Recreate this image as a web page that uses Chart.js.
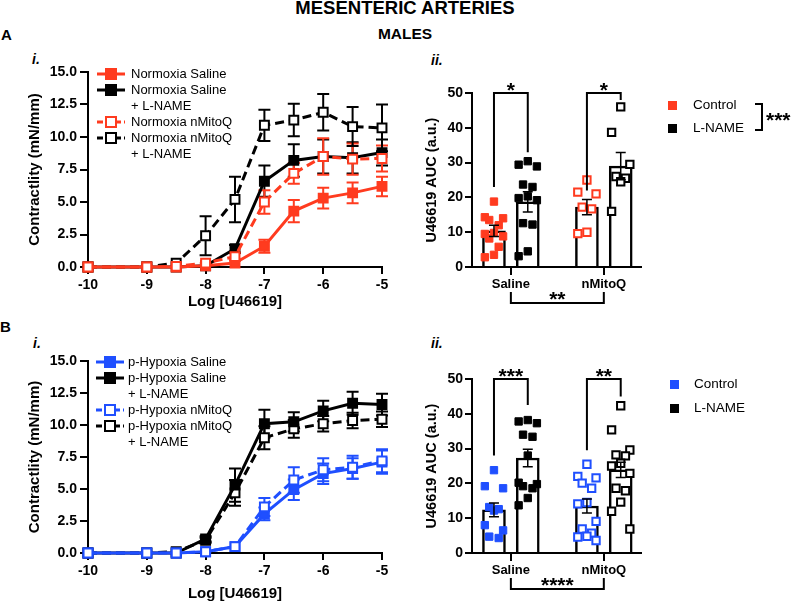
<!DOCTYPE html>
<html>
<head>
<meta charset="utf-8">
<title>Mesenteric arteries - males</title>
<script src="https://cdn.jsdelivr.net/npm/chart.js@4.4.1/dist/chart.umd.min.js"></script>
<style>
  body { margin: 0; background: #fff; }
  #page { position: relative; width: 797px; height: 603px; overflow: hidden; font-family: 'Liberation Sans', Arial, sans-serif; color: #000; }
  #page canvas { position: absolute; }
  .txt { position: absolute; white-space: nowrap; line-height: 1; }
  .bold { font-weight: bold; }
  .panel { font-size: 15px; font-weight: bold; }
  .sub { font-size: 14px; font-style: italic; font-weight: bold; }
  .key { position: absolute; font-size: 13px; line-height: 16px; white-space: nowrap; }
  .sample { position: absolute; }
  .sq { position: absolute; width: 9px; height: 9px; }
  .auckey { position: absolute; font-size: 13.5px; line-height: 1; white-space: nowrap; }
</style>
</head>
<body>
<div id="page">
  <div class="txt bold" style="left:405px;top:-1px;font-size:18.5px;transform:translateX(-50%)">MESENTERIC ARTERIES</div>
  <div class="txt bold" style="left:405px;top:26px;font-size:15.5px;transform:translateX(-50%)">MALES</div>
  <div class="txt panel" style="left:1px;top:27px">A</div>
  <div class="txt panel" style="left:0px;top:319px">B</div>
  <div class="txt sub" style="left:32px;top:52px">i.</div>
  <div class="txt sub" style="left:431px;top:53px">ii.</div>
  <div class="txt sub" style="left:33px;top:336px">i.</div>
  <div class="txt sub" style="left:431px;top:336px">ii.</div>

  <canvas id="curveA" width="400" height="255" style="left:0;top:60px"></canvas>
  <canvas id="aucA" width="397" height="255" style="left:400px;top:60px"></canvas>
  <canvas id="curveB" width="400" height="254" style="left:0;top:349px"></canvas>
  <canvas id="aucB" width="397" height="254" style="left:400px;top:349px"></canvas>

  <div id="legendA"></div>
  <div id="legendB"></div>

  <!-- AUC legends -->
  <div class="sq" style="left:668px;top:101px;background:#ff3b1f"></div>
  <div class="auckey" style="left:693px;top:98px">Control</div>
  <div class="sq" style="left:668px;top:124px;background:#000"></div>
  <div class="auckey" style="left:693px;top:121px">L-NAME</div>
  <div style="position:absolute;left:755px;top:103px;width:6px;height:24px;border:2px solid #000;border-left:none"></div>
  <div class="txt bold" style="left:766px;top:109px;font-size:21px">***</div>

  <div class="sq" style="left:670px;top:380px;background:#1f4fff"></div>
  <div class="auckey" style="left:694px;top:377px">Control</div>
  <div class="sq" style="left:670px;top:404px;background:#000"></div>
  <div class="auckey" style="left:694px;top:401px">L-NAME</div>
</div>

<script>
// Dose axis, log [U46619]
const logDose = [-10, -9, -8.5, -8, -7.5, -7, -6.5, -6, -5.5, -5];

// A i. normoxia concentration-response (mN/mm), mean and SEM
const normSaline      = [0, 0, 0, 0.1, 0.3, 1.6, 4.3, 5.3, 5.7, 6.2];
const normSalineSem   = [0, 0, 0, 0, 0, 0.5, 0.85, 0.8, 0.8, 0.75];
const normSalineLN    = [0, 0, 0, 0.1, 1.4, 6.6, 8.2, 8.5, 8.4, 8.8];
const normSalineLNSem = [0, 0, 0, 0, 0.3, 1.2, 1.25, 1.3, 1.2, 1.0];
const normMito        = [0, 0, 0.05, 0.3, 0.8, 5.0, 7.2, 8.5, 8.3, 8.35];
const normMitoSem     = [0, 0, 0, 0, 0.3, 0.9, 0.8, 1.4, 1.2, 1.0];
const normMitoLN      = [0, 0, 0.3, 2.4, 5.2, 10.9, 11.3, 11.9, 10.8, 10.7];
const normMitoLNSem   = [0, 0, 0, 1.5, 1.75, 1.2, 1.25, 1.4, 1.5, 1.8];

// B i. post-hypoxia concentration-response (mN/mm)
const hypSaline      = [0, 0, 0, 0.1, 0.5, 3.05, 4.95, 6.2, 6.6, 7.1];
const hypSalineSem   = [0, 0, 0, 0, 0, 0.5, 0.8, 0.8, 0.8, 0.9];
const hypSalineLN    = [0, 0, 0, 1.1, 5.3, 10.1, 10.25, 11.1, 11.7, 11.6];
const hypSalineLNSem = [0, 0, 0, 0.2, 1.3, 1.1, 0.75, 0.8, 0.9, 0.85];
const hypMito        = [0, 0, 0, 0.1, 0.5, 3.6, 5.7, 6.5, 6.7, 7.2];
const hypMitoSem     = [0, 0, 0, 0, 0, 0.7, 1.0, 0.9, 0.9, 0.9];
const hypMitoLN      = [0, 0, 0.1, 1.0, 4.7, 9.0, 9.7, 10.1, 10.35, 10.45];
const hypMitoLNSem   = [0, 0, 0, 0.2, 1.0, 0.9, 0.7, 0.6, 0.6, 0.6];

// AUC panels: groups, bar means / SEM (Saline ctrl, Saline L-NAME, nMitoQ ctrl, nMitoQ L-NAME)
const groups = ['Saline', 'nMitoQ'];
const aucMeansA = [10.4, 18.7, 17.2, 29.0];
const aucSemA   = [1.6, 2.9, 2.2, 3.9];
const aucMeansB = [12.4, 27.3, 13.5, 23.9];
const aucSemB   = [2.0, 2.5, 2.0, 2.2];

// individual animals (a.u.)
const aSalineCtrl = [18.8, 14.3, 14.0, 13.5, 12.0, 9.8, 9.5, 8.8, 8.2, 5.8, 3.5, 2.8];
const aSalineLN   = [30.4, 29.4, 28.9, 23.7, 23.0, 20.3, 19.8, 19.2, 12.6, 12.2, 4.5, 3.1];
const aMitoCtrl   = [25.0, 21.5, 21.0, 17.2, 16.7, 10.0, 9.6];
const aMitoLN     = [46.0, 38.7, 29.5, 26.0, 25.5, 24.5, 16.0];
const bSalineCtrl = [23.8, 19.2, 18.6, 13.2, 12.6, 12.2, 8.0, 6.5, 4.7, 4.3];
const bSalineLN   = [38.2, 37.8, 37.3, 34.0, 33.4, 28.0, 20.2, 19.8, 19.2, 18.6, 15.8, 13.7];
const bMitoCtrl   = [25.5, 22.0, 21.6, 20.1, 18.6, 14.5, 14.1, 9.1, 6.9, 5.7, 4.8, 4.6, 3.6];
const bMitoLN     = [42.3, 35.4, 29.6, 28.2, 27.9, 25.8, 25.0, 22.9, 18.6, 17.9, 14.6, 12.0, 6.9];

const red = '#ff3b1f';
const blue = '#1f4fff';
const black = '#000000';
const fontFamily = "'Liberation Sans', Arial, sans-serif";

Chart.defaults.font.family = fontFamily;
Chart.defaults.color = '#000';
Chart.defaults.animation = false;
Chart.defaults.plugins.legend.display = false;
Chart.defaults.plugins.tooltip.enabled = false;

// x positions on the AUC axis (0..5)
const groupPos = [1.15, 3.9];
const barPos = [groupPos[0] - 0.5, groupPos[0] + 0.5, groupPos[1] - 0.5, groupPos[1] + 0.5];
const spread = [0, -0.27, 0.27, -0.14, 0.14];

function drawErrors(chart, cap, lw) {
    const { ctx, scales: { x, y } } = chart;
    chart.data.datasets.forEach(ds => {
        if (!ds.sem) return;
        ctx.save();
        ctx.strokeStyle = ds.errorColor;
        ctx.lineWidth = lw;
        ds.data.forEach((p, i) => {
            const s = ds.sem[i];
            if (!s) return;
            const px = x.getPixelForValue(p.x);
            const hi = y.getPixelForValue(p.y + s);
            const lo = y.getPixelForValue(p.y - s);
            ctx.beginPath();
            ctx.moveTo(px, hi); ctx.lineTo(px, lo);
            ctx.moveTo(px - cap, hi); ctx.lineTo(px + cap, hi);
            ctx.moveTo(px - cap, lo); ctx.lineTo(px + cap, lo);
            ctx.stroke();
        });
        ctx.restore();
    });
}

function errorPlugin(under, cap, lw) {
    return {
        id: 'errorBars',
        beforeDatasetsDraw(chart) { if (under) drawErrors(chart, cap, lw); },
        afterDatasetsDraw(chart) { if (!under) drawErrors(chart, cap, lw); }
    };
}

// significance brackets: above each pair of bars, and between treatments below the axis
function bracketPlugin(pairs, between) {
    return {
        id: 'brackets',
        afterDraw(chart) {
            const { ctx, scales: { x, y }, chartArea } = chart;
            ctx.save();
            ctx.strokeStyle = '#000';
            ctx.fillStyle = '#000';
            ctx.lineWidth = 2;
            ctx.font = 'bold 21px ' + fontFamily;
            ctx.textAlign = 'center';
            ctx.textBaseline = 'alphabetic';
            pairs.forEach(b => {
                const x1 = x.getPixelForValue(b.from);
                const x2 = x.getPixelForValue(b.to);
                const top = y.getPixelForValue(b.top);
                ctx.beginPath();
                ctx.moveTo(x1, y.getPixelForValue(b.left));
                ctx.lineTo(x1, top);
                ctx.lineTo(x2, top);
                ctx.lineTo(x2, y.getPixelForValue(b.right));
                ctx.stroke();
                ctx.fillText(b.text, (x1 + x2) / 2, top + 4);
            });
            const g1 = x.getPixelForValue(groupPos[0]);
            const g2 = x.getPixelForValue(groupPos[1]);
            const base = chartArea.bottom;
            ctx.beginPath();
            ctx.moveTo(g1, base + 25);
            ctx.lineTo(g1, base + 36);
            ctx.lineTo(g2, base + 36);
            ctx.lineTo(g2, base + 25);
            ctx.stroke();
            ctx.fillText(between, (g1 + g2) / 2, base + 39);
            ctx.restore();
        }
    };
}

function curveChart(id, series, padTop, xHeight, titlePad) {
    return new Chart(document.getElementById(id), {
        type: 'line',
        data: {
            datasets: series.map(s => ({
                label: s.label.join(' '),
                data: logDose.map((d, i) => ({ x: d, y: s.values[i] })),
                sem: s.sem,
                errorColor: s.color,
                borderColor: s.color,
                backgroundColor: s.open ? '#fff' : s.color,
                borderWidth: 3,
                borderDash: s.dashed ? [9, 5] : [],
                pointStyle: 'rect',
                pointRadius: 6.3,
                pointBorderWidth: 2,
                pointBackgroundColor: s.open ? '#fff' : s.color,
                pointBorderColor: s.color,
                tension: 0,
                clip: false,
                order: s.order
            }))
        },
        options: {
            responsive: false,
            layout: { padding: { left: 0, top: padTop, right: 18, bottom: 0 } },
            scales: {
                x: {
                    type: 'linear', min: -10, max: -5,
                    ticks: { stepSize: 1, padding: 3, font: { size: 14, weight: 'bold' }, callback: v => String(v) },
                    grid: { drawOnChartArea: false, color: '#000', lineWidth: 2, tickLength: 7 },
                    border: { color: '#000', width: 2 },
                    title: { display: true, text: 'Log [U46619]', font: { size: 15, weight: 'bold' }, padding: { top: 0, bottom: titlePad } },
                    afterFit: s => { s.height = xHeight; }
                },
                y: {
                    min: 0, max: 15,
                    ticks: { stepSize: 2.5, padding: 3, font: { size: 14, weight: 'bold' }, callback: v => v.toFixed(1) },
                    grid: { drawOnChartArea: false, color: '#000', lineWidth: 2, tickLength: 8 },
                    border: { color: '#000', width: 2 },
                    title: { display: true, text: 'Contractlity (mN/mm)', font: { size: 15, weight: 'bold' }, padding: { top: 26, bottom: 0 } },
                    afterFit: s => { s.width = 88; }
                }
            }
        },
        plugins: [errorPlugin(true, 6, 2)]
    });
}

function scatterSet(values, pos, color, open) {
    return {
        type: 'scatter',
        data: values.map((v, i) => ({ x: pos + spread[i % spread.length], y: v })),
        pointStyle: 'rect',
        pointRadius: 5.2,
        pointBorderWidth: open ? 2 : 1,
        pointBackgroundColor: open ? '#fff' : color,
        pointBorderColor: color,
        backgroundColor: open ? '#fff' : color,
        borderColor: color,
        clip: false,
        order: 1
    };
}

function aucChart(id, color, points, means, sem, padTop, xHeight, pairs, between) {
    return new Chart(document.getElementById(id), {
        type: 'bar',
        data: {
            datasets: [
                scatterSet(points[0], barPos[0], color, false),
                scatterSet(points[1], barPos[1], black, false),
                scatterSet(points[2], barPos[2], color, true),
                scatterSet(points[3], barPos[3], black, true),
                {
                    type: 'bar',
                    data: barPos.map((p, i) => ({ x: p, y: means[i] })),
                    sem: sem,
                    errorColor: '#000',
                    backgroundColor: '#fff',
                    borderColor: '#000',
                    borderWidth: 2.5,
                    barThickness: 23,
                    grouped: false,
                    order: 2
                }
            ]
        },
        options: {
            responsive: false,
            layout: { padding: { left: 0, top: padTop, right: 156, bottom: 0 } },
            scales: {
                x: {
                    type: 'linear', min: 0, max: 5, offset: false,
                    afterBuildTicks: s => { s.ticks = groupPos.map(v => ({ value: v })); },
                    ticks: { padding: 2, font: { size: 13, weight: 'bold' }, callback: (v, i) => groups[i] },
                    grid: { drawOnChartArea: false, offset: false, color: '#000', lineWidth: 2, tickLength: 8 },
                    border: { color: '#000', width: 2 },
                    afterFit: s => { s.height = xHeight; }
                },
                y: {
                    min: 0, max: 50,
                    ticks: { stepSize: 10, padding: 2, font: { size: 14, weight: 'bold' } },
                    grid: { drawOnChartArea: false, color: '#000', lineWidth: 2, tickLength: 7 },
                    border: { color: '#000', width: 2 },
                    title: { display: true, text: 'U46619 AUC (a.u.)', font: { size: 14.5, weight: 'bold' }, padding: { top: 23, bottom: 0 } },
                    afterFit: s => { s.width = 72; }
                }
            }
        },
        plugins: [errorPlugin(false, 5, 1.5), bracketPlugin(pairs, between)]
    });
}

function curveLegend(elId, series, top, sampleLeft, textLeft) {
    const box = document.getElementById(elId);
    let rowTop = top;
    series.forEach(s => {
        const dash = s.dashed ? ' stroke-dasharray="6 3"' : '';
        const fill = s.open ? '#fff' : s.color;
        box.insertAdjacentHTML('beforeend',
            `<svg class="sample" style="left:${sampleLeft}px;top:${rowTop}px" width="28" height="16">` +
            `<line x1="0" y1="8" x2="28" y2="8" stroke="${s.color}" stroke-width="3"${dash}/>` +
            `<rect x="9" y="3" width="10" height="10" fill="${fill}" stroke="${s.color}" stroke-width="2"/></svg>` +
            `<div class="key" style="left:${textLeft}px;top:${rowTop}px">${s.label.join('<br>')}</div>`);
        rowTop += 16 * s.label.length;
    });
}

const seriesA = [
    { label: ['Normoxia Saline'], values: normSaline, sem: normSalineSem, color: red, open: false, dashed: false, order: 1 },
    { label: ['Normoxia Saline', '+ L-NAME'], values: normSalineLN, sem: normSalineLNSem, color: black, open: false, dashed: false, order: 2 },
    { label: ['Normoxia nMitoQ'], values: normMito, sem: normMitoSem, color: red, open: true, dashed: true, order: 0 },
    { label: ['Normoxia nMitoQ', '+ L-NAME'], values: normMitoLN, sem: normMitoLNSem, color: black, open: true, dashed: true, order: 3 }
];

const seriesB = [
    { label: ['p-Hypoxia Saline'], values: hypSaline, sem: hypSalineSem, color: blue, open: false, dashed: false, order: 1 },
    { label: ['p-Hypoxia Saline', '+ L-NAME'], values: hypSalineLN, sem: hypSalineLNSem, color: black, open: false, dashed: false, order: 2 },
    { label: ['p-Hypoxia nMitoQ'], values: hypMito, sem: hypMitoSem, color: blue, open: true, dashed: true, order: 0 },
    { label: ['p-Hypoxia nMitoQ', '+ L-NAME'], values: hypMitoLN, sem: hypMitoLNSem, color: black, open: true, dashed: true, order: 3 }
];

curveChart('curveA', seriesA, 12, 48, 4);
curveChart('curveB', seriesB, 12, 50, 0);

aucChart('aucA', red, [aSalineCtrl, aSalineLN, aMitoCtrl, aMitoLN], aucMeansA, aucSemA, 33, 48,
    [{ from: barPos[0], to: barPos[1], left: 23, top: 50, right: 33, text: '*' },
     { from: barPos[2], to: barPos[3], left: 22, top: 50, right: 48, text: '*' }], '**');

aucChart('aucB', blue, [bSalineCtrl, bSalineLN, bMitoCtrl, bMitoLN], aucMeansB, aucSemB, 30, 50,
    [{ from: barPos[0], to: barPos[1], left: 28, top: 50, right: 42.5, text: '***' },
     { from: barPos[2], to: barPos[3], left: 29.5, top: 50, right: 45, text: '**' }], '****');

curveLegend('legendA', seriesA, 66, 97, 131);
curveLegend('legendB', seriesB, 354, 96, 128);
</script>
</body>
</html>
